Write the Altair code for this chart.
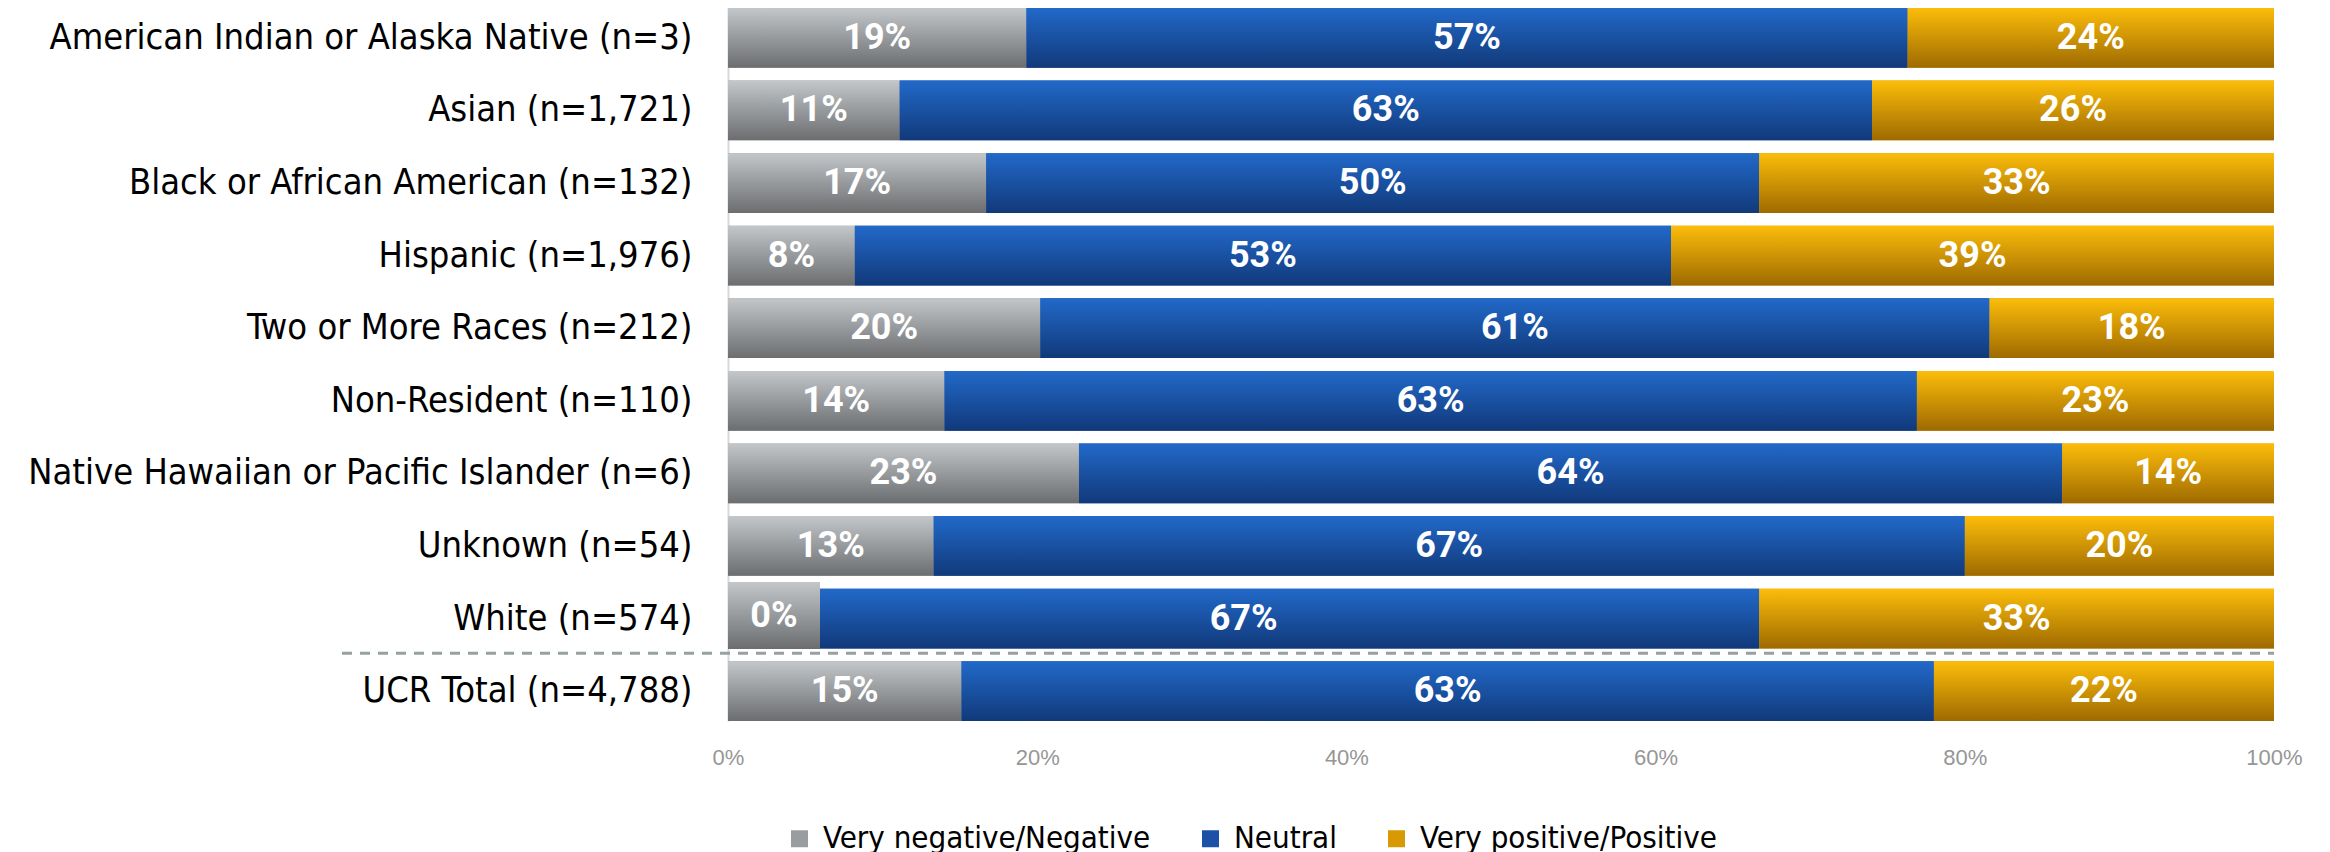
import altair as alt
import pandas as pd

categories = [
    "American Indian or Alaska Native (n=3)",
    "Asian (n=1,721)",
    "Black or African American (n=132)",
    "Hispanic (n=1,976)",
    "Two or More Races (n=212)",
    "Non-Resident (n=110)",
    "Native Hawaiian or Pacific Islander (n=6)",
    "Unknown (n=54)",
    "White (n=574)",
    "UCR Total (n=4,788)",
]
responses = ["Very negative/Negative", "Neutral", "Very positive/Positive"]
negative = [19.3, 11.1, 16.7, 8.2, 20.2, 14.0, 22.7, 13.3, 0.0, 15.1]
neutral = [57.0, 62.9, 50.0, 52.8, 61.4, 62.9, 63.6, 66.7, 66.7, 62.9]
positive = [23.7, 26.0, 33.3, 39.0, 18.4, 23.1, 13.7, 20.0, 33.3, 22.0]
x_ticks = [0, 0.2, 0.4, 0.6, 0.8, 1.0]

rows = []
for i, c in enumerate(categories):
    start = 0.0
    for r, vals in zip(responses, [negative, neutral, positive]):
        v = vals[i] / 100.0
        rows.append({"cat": c, "resp": r, "value": v, "start": start,
                     "end": start + v, "mid": start + v / 2})
        start += v
df = pd.DataFrame(rows)

W, H = 1546, 713
LABEL_FONT = "DejaVu Sans Condensed"
NUM_FONT = "Roboto"


def grad(top, bottom):
    return alt.Gradient(gradient="linear", x1=0, y1=0, x2=0, y2=1,
                        stops=[alt.GradientStop(color=top, offset=0),
                               alt.GradientStop(color=bottom, offset=1)])


grads = {
    "Very negative/Negative": grad("#c3c7ca", "#6b6d6f"),
    "Neutral": grad("#2269c9", "#11397a"),
    "Very positive/Positive": grad("#fcbd0a", "#9e6a00"),
}
solid = ["#9a9da0", "#1c52a6", "#d89a04"]

yscale = alt.Scale(domain=categories, paddingInner=0.177, paddingOuter=0)
y_enc = alt.Y("cat:N", scale=yscale, title=None,
              axis=alt.Axis(labelFont=LABEL_FONT, labelFontSize=36, labelColor="#000000",
                            labelPadding=36, ticks=False, domain=True, domainColor="#d9d9d9",
                            domainWidth=2, labelLimit=900))
x_enc = alt.X("start:Q", scale=alt.Scale(domain=[0, 1]), title=None,
              axis=alt.Axis(values=x_ticks, format=".0%", labelFont="Liberation Sans",
                            labelFontSize=22, labelColor="#969696", labelPadding=26,
                            labelFlush=False, ticks=False, domain=False, grid=False))

base = alt.Chart(df)

legend_layer = base.mark_bar().encode(
    y=y_enc,
    x=x_enc,
    x2="end:Q",
    color=alt.Color("resp:N", scale=alt.Scale(domain=responses, range=solid), title=None,
                    legend=alt.Legend(orient="none", direction="horizontal", legendX=56, legendY=815,
                                      symbolType="square", symbolSize=289, symbolStrokeWidth=0,
                                      labelFont=LABEL_FONT, labelFontSize=31, labelColor="#000000",
                                      labelOffset=8, columnPadding=44, labelLimit=600, padding=0)),
)

grad_layers = [
    base.transform_filter(alt.datum.resp == r).mark_bar(fill=grads[r]).encode(
        y=alt.Y("cat:N", scale=yscale), x=alt.X("start:Q"), x2="end:Q")
    for r in responses
]

zero_box = base.transform_filter(alt.datum.value == 0).mark_bar(
    fill=grads["Very negative/Negative"], height=67, yOffset=-3, x2Offset=92
).encode(y=alt.Y("cat:N", scale=yscale), x=alt.X("start:Q"), x2="start:Q")

labels = base.transform_filter(alt.datum.value > 0).mark_text(
    font=NUM_FONT, fontSize=36, fontWeight="bold", color="white", baseline="middle", align="center"
).encode(y=alt.Y("cat:N", scale=yscale), x=alt.X("mid:Q"),
         text=alt.Text("value:Q", format=".0%"))

zero_label = base.transform_filter(alt.datum.value == 0).mark_text(
    font=NUM_FONT, fontSize=36, fontWeight="bold", color="white", baseline="middle", align="center",
    dx=46, dy=-3
).encode(y=alt.Y("cat:N", scale=yscale), x=alt.X("start:Q"),
         text=alt.Text("value:Q", format=".0%"))

sep = pd.DataFrame({"cat": [categories[-1]]})
rule = alt.Chart(sep).mark_rule(strokeDash=[10, 8], strokeWidth=3, color="#98a1a1", yOffset=-8).encode(
    y=alt.Y("cat:N", scale=yscale, bandPosition=0),
    x=alt.value(-386), x2=alt.value(W),
)

chart = alt.layer(legend_layer, *grad_layers, zero_box, labels, zero_label, rule).properties(
    width=W, height=H,
    autosize=alt.AutoSizeParams(type="none"),
    padding={"left": 720, "top": 0, "right": 48, "bottom": 131},
).configure_view(stroke=None)

chart.save("out.html", embed_options={"renderer": "svg", "actions": False})
